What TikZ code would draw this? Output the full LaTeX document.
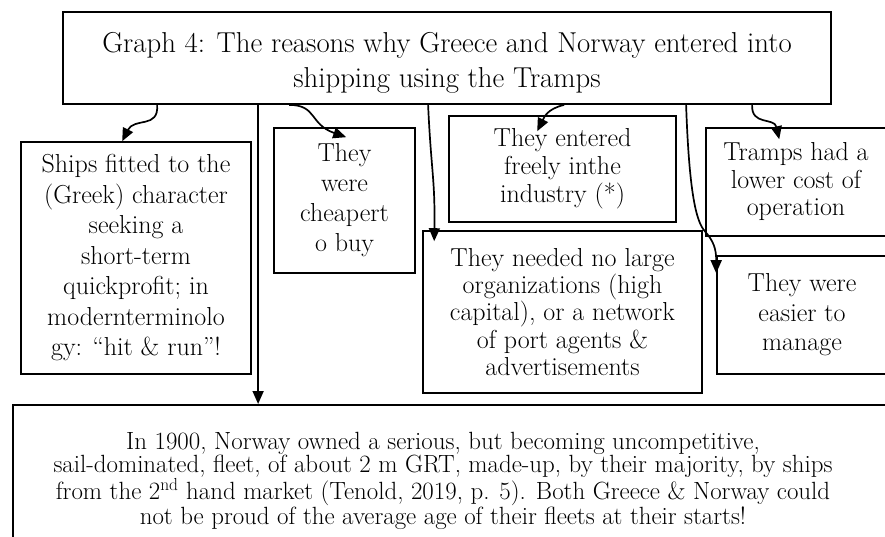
\documentclass[tikz,border=0pt]{standalone}
\usetikzlibrary{arrows.meta,calc}
\begin{document}
\begin{tikzpicture}[x=1pt,y=-1pt,
  box/.style={draw, line width=1.6pt, inner sep=0pt, align=center,
    font=\fontsize{26}{29}\selectfont},
  arr/.style={line width=1.7pt, -{Triangle[length=13pt,width=11pt]}}]
\useasboundingbox (0,0) rectangle (885,536);
% title
\node[box, line width=1.8pt, minimum width=768pt, minimum height=92pt, font=\fontsize{28.8}{35}\selectfont] (title) at (447,58)
  {\rule{0pt}{30pt}Graph 4: The reasons why Greece and Norway entered into\\ shipping using the Tramps};
% reason boxes
\node[box, minimum width=230pt, minimum height=232pt, font=\fontsize{26}{30.5}\selectfont] (ships) at (136,258)
  {Ships fitted to the\\ (Greek) character\\ seeking a\\ short-term\\ quickprofit; in\\ modernterminolo\\ gy: “hit \& run”!};
\node[box, minimum width=141pt, minimum height=145pt, font=\fontsize{26}{30}\selectfont] (cheap) at (344.5,200.5)
  {They\\ were\\ cheapert\\ o buy};
\node[box, minimum width=227pt, minimum height=106pt, font=\fontsize{26}{28}\selectfont] (entered) at (562.5,169)
  {They entered\\ freely inthe\\ industry (*)};
\node[box, minimum width=279pt, minimum height=162pt, font=\fontsize{26}{27.3}\selectfont] (needed) at (562.5,312)
  {They needed no large\\ organizations (high\\ capital), or a network\\ of port agents \&\\ advertisements};
\node[box, minimum width=180pt, minimum height=108pt, font=\fontsize{26}{27.5}\selectfont] (tramps) at (796,182)
  {Tramps had a\\ lower cost of\\ operation};
\node[box, minimum width=170pt, minimum height=118pt, font=\fontsize{26}{29.5}\selectfont] (easier) at (802,315)
  {They were\\ easier to\\ manage};
% bottom box
\node[draw, line width=1.8pt, inner sep=0pt, minimum width=880pt, minimum height=150pt, anchor=north west] (bottom) at (12,404) {};
\node[inner sep=0pt, align=center, font=\fontsize{24.9}{23}\selectfont] (bottomtext) at (443,481)
  {In 1900, Norway owned a serious, but becoming uncompetitive,\\
   sail-dominated, fleet, of about 2 m GRT, made-up, by their majority, by ships\\
   from the 2\textsuperscript{nd} hand market (Tenold, 2019, p. 5). Both Greece \& Norway could\\
   not be proud of the average age of their fleets at their starts!};
% connectors
\draw[arr] ($(title.south west)+(95,0)$) .. controls +(2,24) and +(12,-24) .. ($(ships.north west)+(102,0)$);
\draw[arr] ($(title.south west)+(227,0)$) .. controls +(28,0) and +(-37,-13) .. ($(cheap.north west)+(73,10)$);
\draw[arr] ($(title.south west)+(502,0)$) .. controls +(-17,4) and +(7,-14) .. ($(entered.north west)+(89,16)$);
\draw[arr] ($(title.south west)+(366,0)$) .. controls +(3,66) and +(1,-62) .. ($(needed.north west)+(12,11)$);
\draw[arr] ($(title.south west)+(624,0)$) .. controls +(3,86) and +(-9,-10) .. ($(needed.north east)+(2,1)$)
  .. controls +(9,10) and +(0,-24) .. ($(easier.north west)+(0,18)$);
\draw[arr] ($(title.south west)+(690,0)$) .. controls +(-1,21) and +(-5,-22) .. ($(tramps.north west)+(74,12)$);
\draw[arr] ($(title.south west)+(196,0)$) -- (bottom.north west -| {$(title.south west)+(196,0)$});
\end{tikzpicture}
\end{document}
